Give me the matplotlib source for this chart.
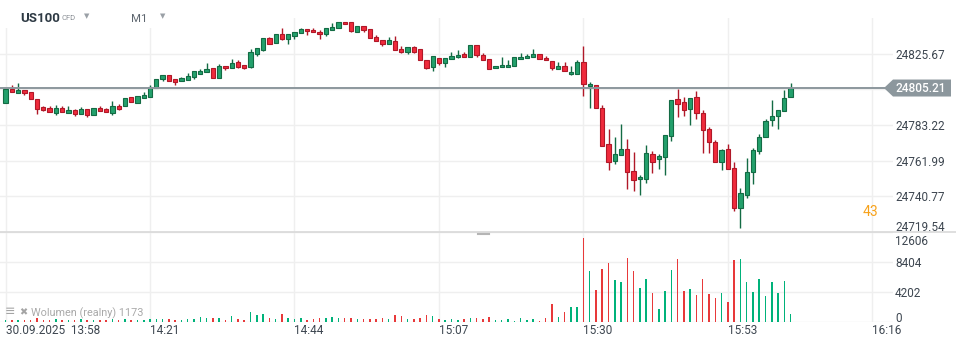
import numpy as np
import matplotlib
matplotlib.use("Agg")
import matplotlib.pyplot as plt
from matplotlib.patches import Polygon, Rectangle
from matplotlib.lines import Line2D
from matplotlib.transforms import IdentityTransform, ScaledTranslation

plt.rcParams['font.family'] = ['Roboto', 'DejaVu Sans']

# ---- US100 1-minute bars, 30.09.2025 13:58 - 16:03 ----
opens = [
    24796.48, 24804.63, 24802.08, 24803.86, 24802.67, 24798.51, 24793.75, 24793.33, 24790.54, 24793.15,
    24790.54, 24791.96, 24789.94, 24792.56, 24789.35, 24793.15, 24792.56, 24790.54, 24794.34, 24794.70,
    24799.70, 24796.48, 24799.46, 24800.05, 24805.05, 24810.76, 24812.78, 24810.40, 24809.21, 24809.81,
    24811.48, 24813.74, 24814.57, 24816.95, 24811.00, 24818.14, 24816.95, 24820.52, 24818.73, 24817.90,
    24825.46, 24828.01, 24834.80, 24831.82, 24837.17, 24834.56, 24836.34, 24837.77, 24840.15, 24839.55,
    24838.36, 24837.17, 24839.55, 24840.74, 24844.31, 24844.31, 24838.36, 24841.93, 24840.15, 24835.39,
    24833.61, 24831.23, 24833.01, 24828.25, 24826.82, 24829.44, 24828.25, 24821.71, 24817.54, 24822.90,
    24819.92, 24822.30, 24823.49, 24825.46, 24823.49, 24830.63, 24824.68, 24822.30, 24816.95, 24817.54,
    24817.54, 24818.14, 24822.30, 24822.90, 24823.49, 24825.28, 24822.90, 24821.11, 24816.35, 24818.14,
    24813.38, 24813.38, 24820.52, 24806.24, 24806.84, 24793.15, 24771.74, 24761.62, 24765.19, 24768.76,
    24755.67, 24750.92, 24750.92, 24765.79, 24762.81, 24764.00, 24776.49, 24798.51, 24796.72, 24792.56,
    24799.70, 24790.18, 24780.66, 24772.93, 24761.03, 24768.76, 24757.46, 24733.66, 24741.40, 24755.08,
    24767.57, 24775.90, 24786.01, 24788.39, 24791.37, 24799.70,
]
highs = [
    24804.63, 24807.01, 24808.03, 24803.86, 24802.67, 24798.51, 24794.52, 24794.52, 24795.12, 24794.34,
    24794.34, 24792.74, 24793.93, 24792.56, 24793.15, 24794.34, 24793.03, 24797.50, 24795.53, 24799.10,
    24799.70, 24800.29, 24802.67, 24807.19, 24810.40, 24812.78, 24812.78, 24810.40, 24811.48, 24813.97,
    24815.16, 24816.53, 24820.10, 24816.95, 24819.33, 24818.14, 24822.48, 24821.71, 24818.73, 24828.43,
    24828.85, 24834.80, 24835.57, 24837.17, 24840.92, 24837.17, 24838.36, 24840.92, 24840.15, 24840.74,
    24839.73, 24840.74, 24843.90, 24844.31, 24844.31, 24844.31, 24841.93, 24841.93, 24840.15, 24836.58,
    24833.61, 24835.39, 24835.99, 24830.21, 24829.44, 24830.21, 24828.25, 24821.71, 24824.09, 24822.90,
    24822.90, 24826.47, 24827.66, 24826.47, 24830.63, 24830.63, 24825.87, 24822.30, 24818.14, 24823.49,
    24821.71, 24823.49, 24825.87, 24825.28, 24828.25, 24825.28, 24824.09, 24821.11, 24820.52, 24820.52,
    24818.14, 24821.71, 24830.21, 24808.62, 24806.84, 24794.94, 24780.66, 24775.90, 24783.63, 24774.71,
    24766.98, 24753.29, 24771.14, 24767.57, 24765.97, 24777.09, 24797.91, 24804.46, 24799.70, 24799.10,
    24803.27, 24791.96, 24781.73, 24774.12, 24768.94, 24771.74, 24761.03, 24745.56, 24763.41, 24769.36,
    24777.68, 24786.61, 24797.91, 24791.96, 24803.86, 24808.03,
]
lows = [
    24796.48, 24802.67, 24802.08, 24801.24, 24798.51, 24789.94, 24791.55, 24790.77, 24789.35, 24791.13,
    24790.54, 24788.75, 24789.94, 24788.15, 24789.35, 24791.72, 24791.13, 24789.35, 24792.14, 24794.70,
    24797.08, 24796.48, 24799.46, 24800.05, 24805.05, 24809.21, 24809.21, 24807.19, 24809.21, 24809.81,
    24810.76, 24813.74, 24814.57, 24811.00, 24811.00, 24815.76, 24816.95, 24817.13, 24816.35, 24817.31,
    24824.09, 24827.42, 24831.58, 24831.82, 24833.61, 24831.58, 24834.20, 24837.77, 24836.58, 24838.36,
    24834.20, 24835.99, 24839.55, 24840.74, 24843.12, 24838.36, 24838.36, 24838.54, 24834.80, 24833.01,
    24830.39, 24831.23, 24827.66, 24825.87, 24825.63, 24825.87, 24821.71, 24816.71, 24815.52, 24818.73,
    24817.90, 24822.30, 24822.90, 24823.49, 24823.49, 24823.49, 24821.71, 24816.35, 24816.95, 24817.54,
    24817.54, 24818.14, 24822.30, 24822.90, 24823.49, 24822.30, 24821.71, 24815.76, 24816.35, 24815.16,
    24812.78, 24813.38, 24800.65, 24793.15, 24793.15, 24770.55, 24756.63, 24759.84, 24765.19, 24745.32,
    24744.13, 24741.75, 24748.89, 24754.48, 24757.22, 24753.29, 24773.52, 24787.80, 24788.39, 24783.04,
    24786.96, 24766.38, 24766.38, 24761.03, 24756.27, 24756.86, 24732.24, 24722.12, 24739.61, 24747.94,
    24765.79, 24775.90, 24782.44, 24780.66, 24791.37, 24799.70,
]
closes = [
    24804.63, 24802.67, 24804.04, 24802.08, 24798.51, 24792.91, 24792.32, 24790.77, 24793.15, 24791.13,
    24791.96, 24789.94, 24792.56, 24789.17, 24793.15, 24791.72, 24791.13, 24794.34, 24792.91, 24799.10,
    24797.08, 24800.29, 24801.06, 24805.65, 24810.40, 24812.78, 24809.21, 24808.98, 24811.00, 24812.19,
    24815.16, 24815.34, 24816.35, 24811.00, 24818.14, 24816.95, 24819.92, 24817.90, 24817.31, 24826.47,
    24828.85, 24834.80, 24831.58, 24837.17, 24834.56, 24837.17, 24838.36, 24840.15, 24838.96, 24838.36,
    24837.17, 24840.74, 24841.34, 24844.31, 24843.12, 24838.96, 24841.93, 24839.55, 24834.80, 24833.01,
    24831.23, 24833.61, 24827.66, 24826.82, 24829.44, 24826.82, 24821.71, 24817.31, 24824.09, 24819.92,
    24822.90, 24824.09, 24824.68, 24823.49, 24830.63, 24824.68, 24821.71, 24816.35, 24818.14, 24818.73,
    24818.73, 24823.49, 24823.49, 24824.09, 24825.28, 24822.30, 24821.71, 24816.95, 24818.14, 24815.16,
    24814.57, 24820.52, 24807.43, 24807.61, 24793.15, 24770.55, 24761.03, 24765.79, 24768.76, 24755.08,
    24750.32, 24752.10, 24766.38, 24761.03, 24764.60, 24777.09, 24797.91, 24795.53, 24791.96, 24799.10,
    24790.18, 24780.06, 24772.93, 24761.03, 24768.17, 24756.86, 24733.66, 24742.59, 24755.08, 24768.17,
    24775.90, 24785.42, 24788.39, 24791.96, 24799.10, 24805.21,
]
volumes = [
    350, 280, 350, 280, 350, 560, 280, 350, 420, 280,
    280, 280, 420, 350, 280, 280, 280, 420, 350, 420,
    280, 350, 280, 380, 460, 380, 460, 280, 240, 380,
    420, 660, 560, 520, 560, 280, 800, 380, 280, 1400,
    980, 1080, 520, 380, 1160, 560, 420, 520, 320, 460,
    600, 600, 660, 600, 600, 600, 420, 420, 460, 460,
    560, 380, 980, 880, 420, 420, 600, 980, 840, 420,
    280, 460, 320, 420, 560, 520, 380, 700, 280, 280,
    380, 180, 560, 280, 420, 180, 610, 2470, 650, 1400,
    2050, 2050, 11720, 7100, 4430, 7380, 8220, 5840, 5560, 8920,
    7100, 4720, 5980, 4020, 1780, 4300, 7240, 8780, 4300, 4580,
    3740, 5980, 3880, 3320, 4020, 2760, 8640, 8780, 5560, 4160,
    5980, 3600, 5560, 4020, 5700, 1173,
]

price_ticks = [24719.54, 24740.77, 24761.99, 24783.22, 24804.44, 24825.67]
volume_ticks = [0, 4202, 8404, 12606]
time_tick_minutes = [0, 23, 46, 69, 92, 115, 138]
time_tick_labels = ["30.09.2025  13:58", "14:21", "14:44", "15:07", "15:30", "15:53", "16:16"]
last_price = 24805.21
symbol, kind, interval = "US100", "CFD", "M1"
volume_title = "Wolumen (realny)"
countdown = "43"

# ---- styling ----
W, H = 956, 346
GREEN_FILL, GREEN_EDGE = "#23a06c", "#136b44"
RED_FILL, RED_EDGE = "#ef2b3c", "#b01828"
VOL_GREEN, VOL_RED = "#00b27a", "#e8393a"
GRID = "#efefef"
LABEL = "#3d4650"
TAG = "#8c979d"

fig = plt.figure(figsize=(W / 100, H / 100), dpi=100)
fig.patch.set_facecolor("white")

ax = fig.add_axes([0, (H - 232) / H, 893 / W, (232 - 18) / H])
axv = fig.add_axes([0, (H - 322) / H, 893 / W, 90 / H])

x = np.arange(len(opens))
o = np.array(opens); h = np.array(highs); l = np.array(lows); c = np.array(closes)
up = c >= o

xmin, xmax = -0.892, 141.3
for a in (ax, axv):
    a.set_xlim(xmin, xmax)
    a.set_facecolor("none")
    for s in a.spines.values():
        s.set_visible(False)
    a.set_axisbelow(True)

# price panel
ax.set_ylim(24719.56, 24846.87)
ax.yaxis.tick_right()
ax.set_yticks(price_ticks)
# the tick level sitting under the last-price tag is covered by it
ax.set_yticklabels(["" if abs(t - last_price) < 5 else f"{t:.2f}" for t in price_ticks])
ax.tick_params(axis="y", length=0, pad=1.5, labelsize=8.5, labelcolor=LABEL)
ax.set_xticks(time_tick_minutes)
ax.tick_params(axis="x", length=0, labelbottom=False)
ax.grid(True, color=GRID, lw=1)

ax.vlines(x, l, h, colors=np.where(up, GREEN_EDGE, RED_EDGE), lw=1.0, zorder=2)
body_lo = np.minimum(o, c)
body_h = np.maximum(np.abs(c - o), 0.4)
ax.bar(x, body_h, bottom=body_lo, width=0.68,
       color=np.where(up, GREEN_FILL, RED_FILL),
       edgecolor=np.where(up, GREEN_EDGE, RED_EDGE), linewidth=0.8, zorder=3)

ax.axhline(last_price, color=TAG, lw=1.4, zorder=4)

# volume panel
axv.set_ylim(0, 12606)
axv.yaxis.tick_right()
axv.set_yticks(volume_ticks)
axv.set_yticklabels([str(v) for v in volume_ticks])
axv.tick_params(axis="y", length=0, pad=1.5, labelsize=8.5, labelcolor=LABEL)
axv.set_xticks(time_tick_minutes)
axv.set_xticklabels(time_tick_labels, ha="left")
axv.tick_params(axis="x", length=0, pad=1.5, labelsize=8.5, labelcolor=LABEL)
axv.grid(True, color=GRID, lw=1)
axv.bar(x, volumes, width=0.24, color=np.where(up, VOL_GREEN, VOL_RED), zorder=2)

# keep edge labels inside their panels
ylabs = ax.get_yticklabels()
ylabs[0].set_transform(ylabs[0].get_transform() + ScaledTranslation(0, 6 / 100, fig.dpi_scale_trans))
vlabs = axv.get_yticklabels()
vlabs[0].set_transform(vlabs[0].get_transform() + ScaledTranslation(0, 5 / 100, fig.dpi_scale_trans))
vlabs[-1].set_transform(vlabs[-1].get_transform() + ScaledTranslation(0, -8 / 100, fig.dpi_scale_trans))

# panel separator and handle
fig.add_artist(Line2D([0, 1], [(H - 232) / H] * 2, color="#d9d9d9", lw=1.2))
fig.add_artist(Line2D([478 / W, 489 / W], [(H - 234) / H] * 2, color="#b5b5b5", lw=1.5))

# last price tag
fig.canvas.draw()
_, yd = ax.transData.transform((0, last_price))
xr = ax.transAxes.transform((1, 0))[0]
tag = Polygon([[xr - 9, yd], [xr, yd + 8.5], [xr + 58, yd + 8.5], [xr + 58, yd - 8.5], [xr, yd - 8.5]],
              closed=True, transform=IdentityTransform(), facecolor=TAG, edgecolor="none", zorder=5)
fig.add_artist(tag)
fig.text((xr + 2.5) / W, yd / H, f"{last_price:.2f}", color="white", fontsize=8.6,
         fontweight="medium", va="center", ha="left", zorder=6)

# countdown
fig.text(863 / W, 1 - 212 / H, countdown, color="#f7a21b", fontsize=10, va="center", ha="left")

# header
fig.add_artist(Rectangle((0, 1 - 28 / H), 200 / W, 28 / H, transform=fig.transFigure,
                         facecolor="white", edgecolor="none", zorder=3))
fig.text(20 / W, 1 - 18 / H, symbol, fontsize=9.5, fontweight="bold", color="#2e3a44", va="center", zorder=4)
fig.text(61 / W, 1 - 18.5 / H, kind, fontsize=5.5, color="#8a8f95", va="center", zorder=4)
fig.text(84 / W, 1 - 17 / H, "\u25BC", fontsize=5, color="#9aa0a6", va="center", zorder=4)
fig.text(131 / W, 1 - 18.5 / H, interval, fontsize=8.2, color="#5f6770", va="center", zorder=4)
fig.text(160 / W, 1 - 17 / H, "\u25BC", fontsize=5, color="#9aa0a6", va="center", zorder=4)

# volume legend
fig.text(5 / W, 1 - 312 / H, "\u2261", fontsize=9, color="#9a9a9a", va="center", alpha=0.9)
fig.text(19 / W, 1 - 312 / H, "\u2716", fontsize=7, color="#9a9a9a", va="center", alpha=0.9)
fig.text(31 / W, 1 - 313 / H, f"{volume_title} {volumes[-1]}", fontsize=7.8, color="#8d8d8d",
         va="center", alpha=0.75)

fig.savefig("out.png", dpi=100, facecolor="white")
